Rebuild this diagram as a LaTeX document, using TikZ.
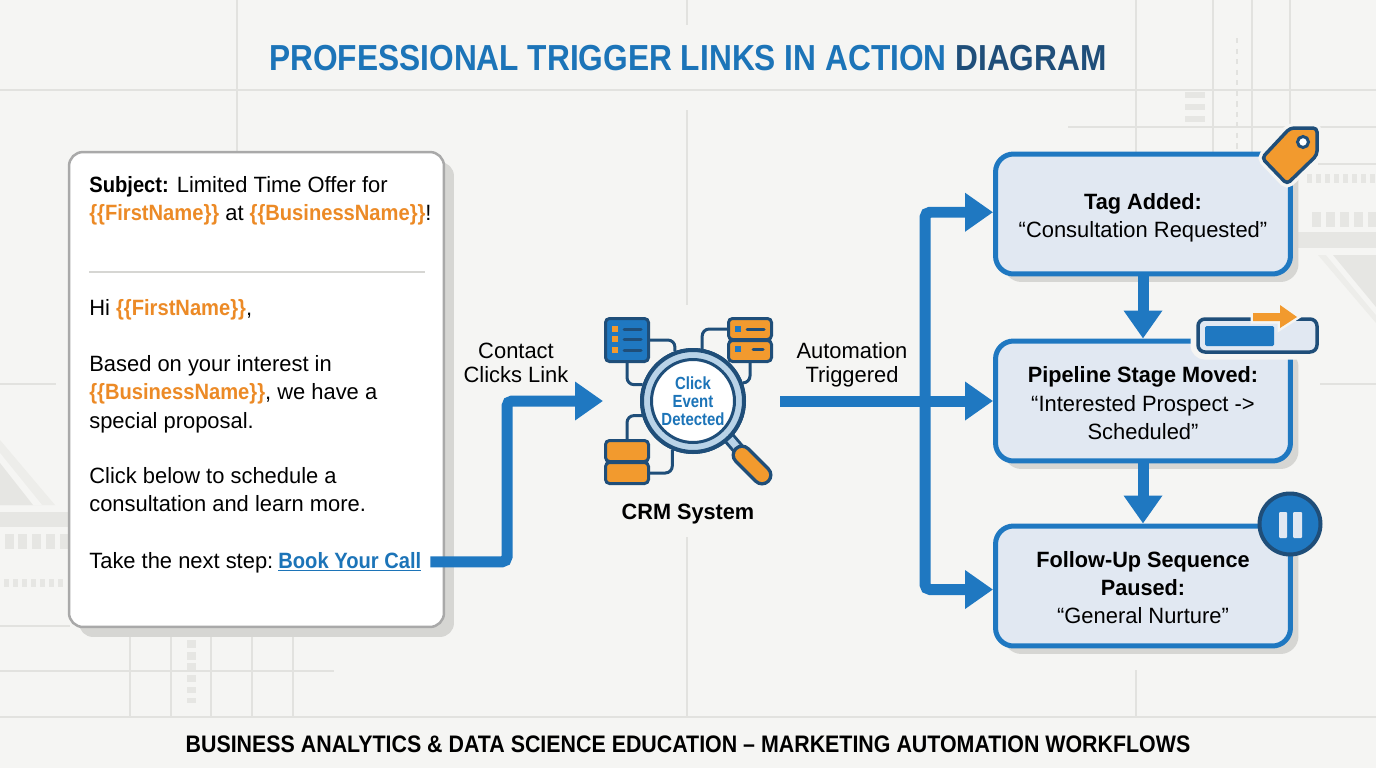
\documentclass[tikz,border=0pt]{standalone}
\usepackage{fontspec}
\setmainfont[FakeStretch=0.99,BoldFeatures={FakeStretch=0.98}]{Liberation Sans}
\newfontfamily\titlefont[FakeStretch=0.875]{Liberation Sans}
\newfontfamily\footerfont[FakeStretch=0.895]{Liberation Sans}
\newfontfamily\mailbold[FakeStretch=0.91]{Liberation Sans}
\newfontfamily\lensfont[FakeStretch=0.85]{Liberation Sans}
\usetikzlibrary{arrows.meta,shadows}
\definecolor{pagebg}{HTML}{F5F5F3}
\definecolor{gridline}{HTML}{E2E2DF}
\definecolor{decor}{HTML}{E6E6E3}
\definecolor{decorlight}{HTML}{EDEDEA}
\definecolor{flowblue}{HTML}{1F78C1}
\definecolor{titleblue}{HTML}{1C74B8}
\definecolor{navy}{HTML}{1F4E79}
\definecolor{lensblue}{HTML}{B9D3E8}
\definecolor{boxfill}{HTML}{E1E8F2}
\definecolor{tagorange}{HTML}{F29A2E}
\definecolor{varorange}{HTML}{EC8A26}
\definecolor{shadowgray}{HTML}{D6D6D3}
\definecolor{mailedge}{HTML}{A9A9A9}
\newcommand{\fieldname}[1]{\textcolor{varorange}{\mailbold\bfseries #1}}
\newcommand{\stagehead}[2]{\rule{0pt}{#1}\textbf{#2}}
\tikzset{
  gridrule/.style={draw=gridline, line width=0.04cm},
  flowarrow/.style={draw=flowblue, line width=0.22cm, -{Triangle[length=0.56cm,width=0.74cm]}},
  stagebox/.style={draw=flowblue, fill=boxfill, line width=0.1cm, rounded corners=0.36cm,
    minimum width=5.9cm, minimum height=2.4cm, align=center, font=\fontsize{12.6}{16.2}\selectfont,
    drop shadow={shadow xshift=0.16cm, shadow yshift=-0.16cm, opacity=1, fill=shadowgray}},
  mailtext/.style={anchor=north west, inner sep=0pt, align=left, font=\fontsize{12.6}{16.2}\selectfont},
  flowlabel/.style={align=center, inner sep=0pt, font=\fontsize{12.6}{13.6}\selectfont},
  iconbox/.style={draw=navy, line width=0.06cm, rounded corners=0.08cm, minimum width=0.86cm},
  iconlink/.style={draw=navy, line width=0.06cm, rounded corners=0.14cm},
  iconbar/.style={draw=navy, line width=0.06cm, line cap=round}
}
\begin{document}
\begin{tikzpicture}[x=0.02cm,y=-0.02cm]
    % Page
    \fill[pagebg] (0,0) rectangle (1376,768);
    \useasboundingbox (0,0) rectangle (1376,768);

    % Background grid
    \draw[gridrule] (0,90) -- (1376,90);
    \draw[gridrule] (0,717) -- (1376,717);
    \draw[gridrule] (1068,127) -- (1376,127);
    \draw[gridrule] (0,626) -- (70,626);
    \draw[gridrule] (0,671) -- (334,671);
    \draw[gridrule] (1318,164) -- (1376,164);
    \draw[gridrule] (0,384) -- (56,384);
    \draw[gridrule] (1320,384) -- (1376,384);
    \draw[gridrule] (237,0) -- (237,152);
    \draw[gridrule] (687,0) -- (687,25);
    \draw[gridrule] (687,110) -- (687,305);
    \draw[gridrule] (687,537) -- (687,717);
    \draw[gridrule] (1136,670) -- (1136,717);
    \foreach \gx in {1136,1213,1252} \draw[gridrule] (\gx,0) -- (\gx,152);
    \draw[gridrule] (1290,0) -- (1290,127);
    \foreach \gx in {130,171,211,252,293} \draw[gridrule] (\gx,627) -- (\gx,717);
    \draw[gridrule, dashed] (1237,38) -- (1237,152);

    % Left decoration
    \fill[decorlight] (0,440) -- (55,505) -- (0,505) -- cycle;
    \fill[pagebg] (0,453) -- (42,505) -- (0,505) -- cycle;
    \fill[decor] (0,463) -- (33,505) -- (0,505) -- cycle;
    \fill[decor] (0,512) rectangle (70,527);
    \foreach \dx in {5,18,32,46,60} \fill[decor] (\dx,534) rectangle ++(9,15);
    \foreach \dx in {4,13,...,58} \fill[decor] (\dx,579) rectangle ++(5,8);
    \foreach \dy/\dh in {640/8,652/8,663/7,675/7,687/6,698/5} \fill[decor] (187,\dy) rectangle ++(9,\dh);

    % Right decoration
    \foreach \dy in {92,104,116} \fill[decor] (1185,\dy) rectangle ++(20,6);
    \foreach \dx in {1307,1316,...,1372} \fill[decor] (\dx,174) rectangle ++(5,9);
    \foreach \dx in {1312,1326,...,1368} \fill[decor] (\dx,212) rectangle ++(9,15);
    \fill[decor] (1290,232) rectangle (1376,248);
    \fill[decorlight] (1318,255) -- (1376,255) -- (1376,323) -- cycle;
    \fill[pagebg] (1326,255) -- (1376,255) -- (1376,315) -- cycle;
    \fill[decor] (1333,255) -- (1376,255) -- (1376,307) -- cycle;

    % Title and footer
    \node[font=\titlefont\fontsize{20.6}{24}\bfseries\selectfont] (title) at (688,58)
      {\textcolor{titleblue}{PROFESSIONAL TRIGGER LINKS IN ACTION} \textcolor{navy}{DIAGRAM}};
    \node[font=\footerfont\fontsize{13.6}{16}\bfseries\selectfont] (footer) at (688,744)
      {BUSINESS ANALYTICS \& DATA SCIENCE EDUCATION – MARKETING AUTOMATION WORKFLOWS};

    % Email card
    \node[draw=mailedge, fill=white, line width=0.05cm, rounded corners=0.28cm, minimum width=7.5cm, minimum height=9.5cm,
      drop shadow={shadow xshift=0.2cm, shadow yshift=-0.2cm, opacity=1, fill=shadowgray}] (mailcard) at (256.5,389.5) {};
    \node[mailtext] (subjecttext) at (89,176) {{\mailbold\bfseries Subject:} Limited Time Offer for\\\fieldname{\{\{FirstName\}\}} at \fieldname{\{\{BusinessName\}\}}!};
    \draw[draw=shadowgray, line width=0.04cm] (89,272) -- (425,272);
    \node[mailtext] (greettext) at (89,299) {Hi \fieldname{\{\{FirstName\}\}},};
    \node[mailtext] (offertext) at (89,355) {Based on your interest in\\\fieldname{\{\{BusinessName\}\}}, we have a\\special proposal.};
    \node[mailtext] (clicktext) at (89,467) {Click below to schedule a\\consultation and learn more.};
    \node[mailtext] (taketext) at (89,552) {Take the next step:};
    \node[inner sep=0pt, anchor=base west, font=\mailbold\fontsize{12.6}{16.2}\bfseries\selectfont, text=titleblue] (booklink) at (278,568) {\underline{Book Your Call}};

    % CRM icons
    \node[iconbox, fill=flowblue, minimum height=0.86cm] (listicon) at (627,340) {};
    \node[iconbox, fill=tagorange, minimum height=0.42cm] (rackone) at (750,329) {};
    \node[iconbox, fill=tagorange, minimum height=0.42cm] (racktwo) at (750,351) {};
    \node[iconbox, fill=tagorange, minimum height=0.42cm] (drumone) at (627,451) {};
    \node[iconbox, fill=tagorange, minimum height=0.42cm] (drumtwo) at (627,473) {};
    \foreach \my in {329,339,350} {
      \fill[tagorange] (612,\my-3) rectangle (618,\my+3);
      \draw[iconbar] (624,\my) -- (641,\my);
    }
    \fill[flowblue] (735,326) rectangle (741,332);
    \draw[iconbar] (747,329) -- (764,329);
    \fill[flowblue] (735,346) rectangle (741,352);
    \draw[iconbar] (753,349) -- (763,349);

    % Magnifier
    \node[circle, draw=navy, fill=lensblue, line width=0.08cm, minimum size=2.04cm, inner sep=0pt] (lens) at (693,401) {};
    \draw[iconlink] (listicon.east) -| (lens.110);
    \draw[iconlink] (listicon.south) |- (lens.162);
    \draw[iconlink] (rackone.west) -| (lens.80);
    \draw[iconlink] (racktwo.south) |- (lens.20);
    \draw[iconlink] (drumone.north) |- (lens.196);
    \draw[iconlink] (drumtwo.east) -| (lens.247);
    \draw[navy, line width=0.26cm] (729,438) -- (741,452);
    \draw[lensblue, line width=0.14cm] (730,439) -- (741,452);
    \draw[navy, line width=0.42cm, line cap=round] (742,455) -- (762,475);
    \draw[tagorange, line width=0.28cm, line cap=round] (742,455) -- (762,475);
    \node[circle, draw=navy, fill=lensblue, line width=0.08cm, minimum size=2.04cm, inner sep=0pt] (lensring) at (lens) {};
    \node[circle, draw=navy, fill=white, line width=0.06cm, minimum size=1.66cm, inner sep=0pt, align=center,
      text=titleblue, font=\lensfont\fontsize{10}{10.4}\bfseries\selectfont] (lensface) at (lens) {Click\\Event\\Detected};
    \node[font=\fontsize{12.6}{15}\bfseries\selectfont, inner sep=0pt] (crmlabel) at (688,514) {CRM System};

    % Stages
    \node[stagebox] (tagbox) at (1143,214) {\stagehead{13.2pt}{Tag Added:}\\“Consultation Requested”};
    \node[stagebox] (pipebox) at (1143,401) {\stagehead{12pt}{Pipeline Stage Moved:}\\“Interested Prospect ->\\Scheduled”};
    \node[stagebox] (followbox) at (1143,586) {\stagehead{10.9pt}{Follow-Up Sequence}\\\textbf{Paused:}\\“General Nurture”};

    % Flow
    \coordinate (clickbend) at (507,401);
    \coordinate (crmin) at (603,401);
    \coordinate (autostart) at (780,401);
    \coordinate (trunk) at (925,401);
    \draw[flowarrow, rounded corners=0.1cm] ([xshift=5pt]booklink.east) -| (clickbend) -- (crmin);
    \draw[flowarrow] (autostart) -- (pipebox.west);
    \draw[flowarrow, rounded corners=0.1cm] (trunk) |- ([yshift=1pt]tagbox.west);
    \draw[flowarrow, rounded corners=0.1cm] (trunk) |- ([yshift=-2pt]followbox.west);
    \draw[flowarrow] (tagbox) -- (pipebox);
    \draw[flowarrow] (pipebox) -- (followbox);
    \node[flowlabel] (clicklabel) at (516,363) {Contact\\Clicks Link};
    \node[flowlabel] (autolabel) at (852,364.5) {Automation\\Triggered};

    % Tag icon
    \draw[pagebg, line width=0.2cm, rounded corners=0.08cm, fill=pagebg] (1290,128) -- (1317,128) -- (1317,155) -- (1287,184) -- (1262,158) -- cycle;
    \draw[navy, fill=tagorange, line width=0.07cm, rounded corners=0.08cm] (1290,128) -- (1317,128) -- (1317,155) -- (1287,184) -- (1262,158) -- cycle;
    \node[circle, draw=navy, fill=white, line width=0.06cm, minimum size=0.22cm, inner sep=0pt] (taghole) at (1303,142) {};

    % Progress icon
    \node[draw=navy, fill=boxfill, line width=0.07cm, rounded corners=0.14cm, minimum width=2.38cm, minimum height=0.66cm, inner sep=0pt,
      preaction={draw=pagebg, line width=0.3cm}] (progressicon) at (1257.5,335.5) {};
    \fill[flowblue, rounded corners=0.03cm] (1205,326) rectangle (1274,346);
    \draw[pagebg, line width=0.1cm, fill=pagebg] (1253,313) -- (1280,313) -- (1280,305) -- (1297,317) -- (1280,328) -- (1280,321) -- (1253,321) -- cycle;
    \fill[tagorange] (1253,313) -- (1280,313) -- (1280,305) -- (1297,317) -- (1280,328) -- (1280,321) -- (1253,321) -- cycle;

    % Pause icon
    \node[circle, draw=navy, fill=flowblue, line width=0.08cm, minimum size=1.22cm, inner sep=0pt] (pauseicon) at (1290,524) {};
    \fill[boxfill, rounded corners=0.02cm] (1279,512) rectangle (1287,538);
    \fill[boxfill, rounded corners=0.02cm] (1293,512) rectangle (1302,538);
\end{tikzpicture}
\end{document}
